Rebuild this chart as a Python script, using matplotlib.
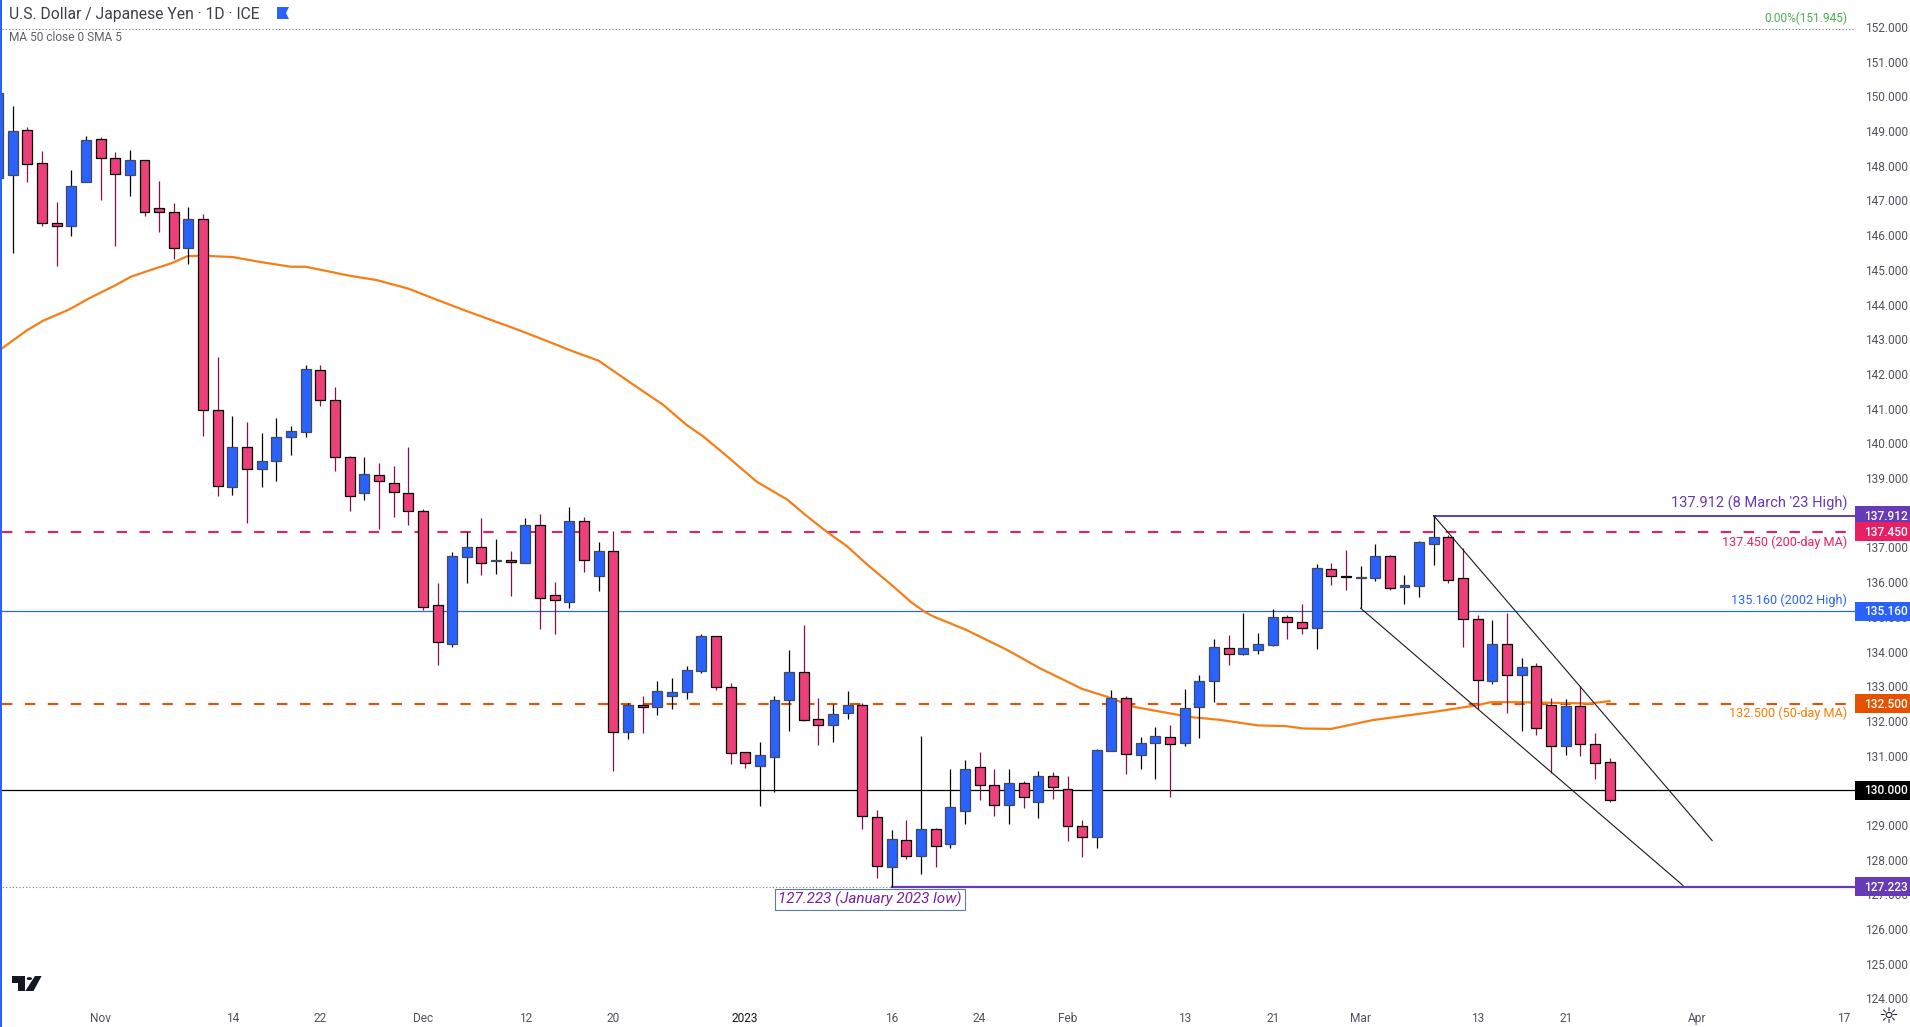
import numpy as np
import matplotlib
matplotlib.use('Agg')
import matplotlib.pyplot as plt
from matplotlib.patches import Polygon, Circle

plt.rcParams['font.family'] = ['Roboto', 'DejaVu Sans']

# daily candles, first one is cut off by the left edge
opens = [147.65, 147.72, 149.02, 148.07, 146.34, 146.25, 147.54, 148.76, 148.22, 147.74, 148.16,
         146.78, 146.66, 145.64, 146.46, 140.95, 138.73, 139.89, 139.25, 139.48, 140.17,
         140.32, 142.11, 141.24, 139.60, 138.56, 139.08, 138.85, 138.56, 138.04, 135.34,
         134.23, 136.73, 137.00, 136.60, 136.63, 136.54, 137.64, 135.62, 135.44, 137.76,
         136.19, 136.89, 131.69, 132.46, 132.41, 132.73, 132.82, 133.45, 134.44, 132.99,
         131.10, 130.71, 130.97, 132.59, 133.41, 132.05, 131.87, 132.24, 132.45, 129.23,
         127.79, 128.56, 128.10, 128.88, 128.45, 129.40, 130.66, 130.15, 129.57, 130.20,
         129.65, 130.41, 130.05, 128.97, 128.64, 131.13, 132.65, 131.03, 131.36, 131.53,
         131.36, 132.39, 133.15, 134.09, 133.92, 134.04, 134.20, 134.98, 134.85, 134.67,
         136.37, 136.18, 136.13, 136.13, 136.74, 135.87, 135.90, 137.11, 137.29, 136.11,
         134.95, 133.16, 134.23, 133.31, 133.57, 132.45, 131.27, 132.42, 131.32, 130.81]
highs = [150.10, 149.72, 149.12, 148.43, 146.96, 147.88, 148.86, 148.83, 148.40, 148.46, 148.16,
         147.56, 146.93, 146.81, 146.61, 142.49, 140.79, 140.62, 140.30, 140.73, 140.50,
         142.26, 142.26, 141.63, 139.63, 139.61, 139.44, 139.35, 139.90, 138.10, 135.98,
         136.87, 137.45, 137.85, 137.25, 136.90, 137.85, 137.96, 136.00, 138.17, 137.87,
         137.16, 137.48, 132.52, 132.71, 133.16, 133.24, 133.59, 134.51, 134.45, 133.09,
         131.11, 131.40, 132.72, 134.05, 134.76, 132.66, 132.50, 132.87, 132.51, 129.44,
         128.86, 129.15, 131.57, 128.92, 130.62, 130.88, 131.11, 130.60, 130.62, 130.27,
         130.56, 130.52, 130.42, 129.15, 131.20, 132.90, 132.71, 131.53, 131.83, 131.89,
         132.93, 133.33, 134.36, 134.48, 135.12, 134.53, 135.23, 135.04, 135.36, 136.52,
         136.55, 136.92, 136.46, 137.10, 136.77, 136.21, 137.18, 137.91, 137.37, 136.98,
         135.05, 134.91, 135.10, 133.81, 133.66, 132.66, 132.63, 133.00, 131.65, 130.92]
lows = [147.65, 145.50, 147.54, 146.25, 145.12, 145.98, 147.54, 147.00, 145.69, 147.14, 146.56,
        146.10, 145.32, 145.18, 140.22, 138.47, 138.52, 137.69, 138.75, 138.90, 139.65,
        140.19, 141.09, 139.19, 138.06, 138.38, 137.52, 137.88, 137.66, 135.20, 133.62,
        134.14, 135.98, 136.21, 136.24, 135.60, 136.54, 134.65, 134.50, 135.26, 136.29,
        135.74, 130.57, 131.48, 131.66, 132.18, 132.33, 132.63, 133.39, 132.90, 130.77,
        130.65, 129.54, 129.94, 131.70, 132.01, 131.31, 131.40, 132.06, 128.87, 127.46,
        127.22, 128.01, 127.58, 127.78, 128.35, 129.04, 129.73, 129.27, 129.04, 129.50,
        129.21, 129.76, 128.54, 128.08, 128.35, 131.12, 130.47, 130.60, 130.33, 129.82,
        131.28, 131.51, 132.55, 133.62, 133.91, 133.94, 134.17, 134.37, 134.49, 134.06,
        135.92, 135.76, 135.25, 136.03, 135.77, 135.37, 135.56, 136.50, 135.96, 134.12,
        132.34, 133.05, 132.24, 131.72, 131.58, 130.51, 131.03, 130.99, 130.32, 129.67]
closes = [150.10, 148.99, 148.04, 146.34, 146.25, 147.41, 148.73, 148.22, 147.75, 148.16, 146.66,
          146.66, 145.64, 146.46, 140.95, 138.76, 139.89, 139.25, 139.48, 140.17, 140.35,
          142.14, 141.24, 139.60, 138.47, 139.11, 138.91, 138.59, 138.04, 135.27, 134.26,
          136.74, 137.00, 136.55, 136.65, 136.57, 137.64, 135.53, 135.47, 137.76, 136.64,
          136.89, 131.69, 132.45, 132.41, 132.85, 132.82, 133.46, 134.44, 132.99, 131.07,
          130.78, 131.02, 132.59, 133.41, 132.02, 131.87, 132.20, 132.45, 129.26, 127.82,
          128.60, 128.10, 128.88, 128.39, 129.52, 130.61, 130.15, 129.58, 130.20, 129.80,
          130.41, 130.09, 128.97, 128.65, 131.16, 132.65, 131.05, 131.36, 131.56, 131.32,
          132.36, 133.15, 134.12, 133.92, 134.09, 134.21, 134.99, 134.85, 134.67, 136.40,
          136.17, 136.16, 136.14, 136.74, 135.82, 135.91, 137.15, 137.29, 136.07, 134.95,
          133.17, 134.23, 133.32, 133.54, 131.79, 131.29, 132.42, 131.32, 130.78, 129.71]

ma_days = [-0.72, 0.95, 2.06, 3.87, 5.13, 6.94, 8.06, 9.45, 10.84, 11.96, 13.35, 15, 17, 19, 20, 23, 24.8, 27, 29,
           31, 34, 35, 37, 38, 40, 42.4, 44.4, 46, 47.1, 48.5, 50.8, 52.9, 54.1, 55.6, 56.9, 58.4, 60.1, 61.3,
           62.3, 62.9, 65.1, 67.9, 70.1, 71.8, 73, 74.6, 76.5, 77.1, 80.4, 82.4, 85, 86.9, 88.1, 90, 92.8, 97,
           99.8, 100.9, 102.5, 105.3, 107.6, 109]
ma_values = [142.74, 143.25, 143.53, 143.86, 144.16, 144.54, 144.80, 145.00, 145.19, 145.40, 145.40, 145.37,
             145.22, 145.09, 145.09, 144.83, 144.71, 144.46, 144.13, 143.81, 143.35, 143.19, 142.86, 142.69,
             142.38, 141.68, 141.11, 140.53, 140.21, 139.72, 138.89, 138.37, 137.94, 137.44, 137.05, 136.48,
             135.88, 135.43, 135.13, 135.00, 134.62, 134.04, 133.52, 133.17, 132.92, 132.71, 132.41, 132.36,
             132.11, 132.03, 131.87, 131.85, 131.78, 131.77, 132.02, 132.26, 132.44, 132.54, 132.54, 132.52,
             132.50, 132.57]

# 138 sits fully behind the 137.912 tag in the reference
price_ticks = [p for p in range(124, 153) if p != 138]
date_days = [6, 15, 21, 28, 35, 41, 50, 60, 66, 72, 80, 86, 92, 100, 106, 115, 125]
date_labels = ['Nov', '14', '22', 'Dec', '12', '20', '2023', '16', '24', 'Feb', '13', '21', 'Mar', '13', '21', 'Apr', '17']

fib_level = 151.945
high_level = 137.912
ma200_level = 137.450
high2002_level = 135.160
ma50_level = 132.500
round_level = 130.000
low_level = 127.223

upper_channel_days = [97, 116]
upper_channel_prices = [137.912, 128.55]
lower_channel_days = [92, 114]
lower_channel_prices = [135.25, 127.26]

BLUE = '#2962ff'
PINK = '#ec407a'
PURPLE = '#673ab7'
RED = '#e91e63'
ORANGE = '#e65100'
GREY = '#50535e'
FS = 8.6

W, H = 1910, 1027
fig = plt.figure(figsize=(W / 100, H / 100), dpi=100, facecolor='white')
ax = fig.add_axes([2 / W, 1 - 1004 / H, (1855 - 2) / W, 1004 / H])


def px(x, y):
    # reference pixels to figure fraction
    return x / W, 1 - y / H


days = np.arange(len(opens)) - 1
opens = np.array(opens)
closes = np.array(closes)
up = closes >= opens

ax.axhline(fib_level, color='#787b86', lw=0.8, ls=(0, (1, 2)), zorder=1)
ax.axhline(ma200_level, color=RED, lw=1.5, ls=(0, (5, 6)), zorder=1)
ax.axhline(high2002_level, color=BLUE, lw=0.9, zorder=1)
ax.axhline(ma50_level, color=ORANGE, lw=1.5, ls=(0, (5, 6)), zorder=1)
ax.axhline(round_level, color='black', lw=0.9, zorder=1)
ax.plot([-1, 60], [low_level, low_level], color='#787b86', lw=0.8, ls=(0, (1, 2)), zorder=1)
ax.plot([60, 126], [low_level, low_level], color=PURPLE, lw=1.6, zorder=1)
ax.plot([97, 126], [high_level, high_level], color=PURPLE, lw=1.4, zorder=1)

ax.plot(ma_days, ma_values, color='#f57f17', lw=1.6, zorder=2)

ax.vlines(days[up], np.array(lows)[up], np.array(highs)[up], color='black', lw=0.9, zorder=3)
ax.vlines(days[~up], np.array(lows)[~up], np.array(highs)[~up], color='#880e4f', lw=0.9, zorder=3)
ax.bar(days[up], (closes - opens)[up], bottom=opens[up], width=0.68, color=BLUE,
       edgecolor='#434a5c', linewidth=0.9, zorder=3)
ax.bar(days[~up], (closes - opens)[~up], bottom=opens[~up], width=0.68, color=PINK,
       edgecolor='black', linewidth=0.9, zorder=3)

ax.plot(upper_channel_days, upper_channel_prices, color='#1a1a1a', lw=0.8, zorder=4)
ax.plot(lower_channel_days, lower_channel_prices, color='#1a1a1a', lw=0.8, zorder=4)

ax.set_xlim(-0.727, 125.75)
ax.set_ylim(123.84, 152.778)
ax.yaxis.tick_right()
ax.set_yticks(price_ticks)
ax.set_yticklabels(['%.3f' % p for p in price_ticks], fontsize=FS, color=GREY)
ax.set_xticks(date_days)
ax.set_xticklabels(date_labels, fontsize=FS, color=GREY)
ax.get_xticklabels()[6].set_color('#131722')
ax.tick_params(length=0)
ax.tick_params(axis='y', pad=7.5)
ax.tick_params(axis='x', pad=5.5)
for s in ax.spines.values():
    s.set_visible(False)

# price tags on the right scale, painted over the tick labels
tags = [(high_level, PURPLE), (ma200_level, RED), (high2002_level, BLUE), (ma50_level, ORANGE),
        (round_level, 'black'), (low_level, PURPLE)]
for level, col in tags:
    y = 27 + (152 - level) * 34.7
    x0, y0 = px(1855, y + 9.5)
    fig.add_artist(plt.Rectangle((x0, y0), 55 / W, 19 / H, transform=fig.transFigure,
                                 facecolor=col, edgecolor='none', zorder=5))
    fig.text(*px(1908, y + 0.5), '%.3f' % level, color='white', fontsize=FS, ha='right', va='center',
             fontweight='medium', zorder=6)

notes = [(503, '137.912 (8 March \'23 High)', PURPLE, 10.5), (542, '137.450 (200-day MA)', RED, 9.1),
         (600.6, '135.160 (2002 High)', BLUE, 9.1), (713.6, '132.500 (50-day MA)', '#f57c00', 9.1)]
for y, txt, col, size in notes:
    fig.text(*px(1847, y), txt, color=col, fontsize=size, ha='right', va='center', zorder=6)
fig.text(*px(1847, 18.7), '0.00%(151.945)', color='#4caf50', fontsize=FS, ha='right', va='center')

fig.text(*px(870, 899.5), '127.223 (January 2023 low)', color='#7b1fa2', fontsize=11, style='italic',
         ha='center', va='center', zorder=6,
         bbox=dict(boxstyle='square,pad=0.2', facecolor='white', edgecolor='#5d7f94', linewidth=0.8))

fig.text(*px(9, 14), 'U.S. Dollar / Japanese Yen · 1D · ICE', color='#3c3f4a', fontsize=11.25, va='center')
fig.text(*px(9, 37.7), 'MA 50 close 0 SMA 5', color='#5d606b', fontsize=8.6, va='center')


def poly(points, col):
    fig.add_artist(Polygon([px(*p) for p in points], closed=True, facecolor=col, edgecolor='none',
                           transform=fig.transFigure, zorder=6))


# left edge stripe
poly([(0, 0), (2, 0), (2, 1027), (0, 1027)], BLUE)
# flag
poly([(277, 7), (289, 7), (286, 13), (289, 19), (277, 19)], BLUE)
# logo
poly([(12, 976), (24.5, 976), (24.5, 991), (17.5, 991), (17.5, 983), (12, 983)], '#131722')
poly([(35, 976), (41.6, 976), (33.5, 991), (25.3, 991)], '#131722')
fig.add_artist(Circle(px(29.4, 978.6), 2.7 / W, transform=fig.transFigure, facecolor='#131722',
                      edgecolor='none', zorder=6))
fig.text(*px(1888, 1017), '☼', color='#131722', fontsize=16, ha='center', va='center',
         family='DejaVu Sans')

fig.savefig('out.png', dpi=100, facecolor='white')
